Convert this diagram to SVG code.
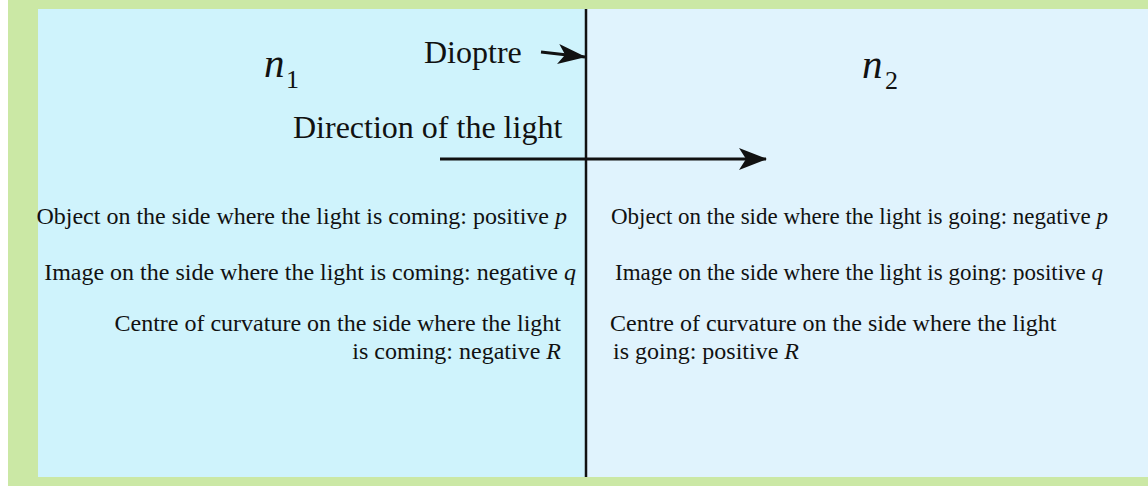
<svg xmlns="http://www.w3.org/2000/svg" width="1148" height="486" viewBox="0 0 1148 486">
<style>
.t{font-family:"Liberation Serif","Times New Roman",serif;fill:#111;}
.b{font-size:24px;}
.s{font-size:23px;}
.h{font-size:32px;}
.i{font-style:italic;}
</style>
<defs>
<marker id="ah" viewBox="0 0 28 22" refX="27" refY="11" markerWidth="28" markerHeight="22" markerUnits="userSpaceOnUse" orient="auto">
<path d="M0,0 L28,11 L0,22 L7,11 Z" fill="#111"/>
</marker>
<marker id="ah2" viewBox="0 0 28 20" refX="27" refY="10" markerWidth="28" markerHeight="20" markerUnits="userSpaceOnUse" orient="auto">
<path d="M0,0 L28,10 L0,20 L7,10 Z" fill="#111"/>
</marker>
</defs>
<rect x="0" y="0" width="1148" height="486" fill="#ffffff"/>
<rect x="8" y="0" width="1140" height="486" fill="#cbe8a5"/>
<g id="medium1"><rect x="38" y="9" width="548" height="468" fill="#cff3fc"/>
<text class="t i" x="264" y="77" font-size="41">n</text><text class="t" x="286" y="88" font-size="26">1</text></g>
<g id="medium2"><rect x="586" y="9" width="562" height="468" fill="#e0f3fd"/>
<text class="t i" x="862" y="78" font-size="41">n</text><text class="t" x="885" y="89" font-size="26">2</text></g>
<g id="labels">
<text class="t h" x="424" y="63">Dioptre</text>
<text class="t h" x="293" y="138">Direction of the light</text>
</g>
<g id="left-text" class="t b" text-anchor="end">
<text x="567" y="224">Object on the side where the light is coming: positive <tspan class="i">p</tspan></text>
<text x="576" y="280">Image on the side where the light is coming: negative <tspan class="i">q</tspan></text>
<text x="561" y="331">Centre of curvature on the side where the light</text>
<text x="561" y="359">is coming: negative <tspan class="i">R</tspan></text>
</g>
<g id="right-text" class="t b">
<text class="s" x="611" y="224">Object on the side where the light is going: negative <tspan class="i">p</tspan></text>
<text class="s" x="615" y="280">Image on the side where the light is going: positive <tspan class="i">q</tspan></text>
<text x="610" y="331">Centre of curvature on the side where the light</text>
<text x="613" y="359">is going: positive <tspan class="i">R</tspan></text>
</g>
<g id="connectors" stroke="#111" fill="none">
<line x1="586" y1="9" x2="586" y2="477" stroke-width="2.5"/>
<line x1="440" y1="159" x2="766" y2="159" stroke-width="3" marker-end="url(#ah)"/>
<line x1="541" y1="52" x2="585" y2="57" stroke-width="3" marker-end="url(#ah2)"/>
</g>
</svg>
